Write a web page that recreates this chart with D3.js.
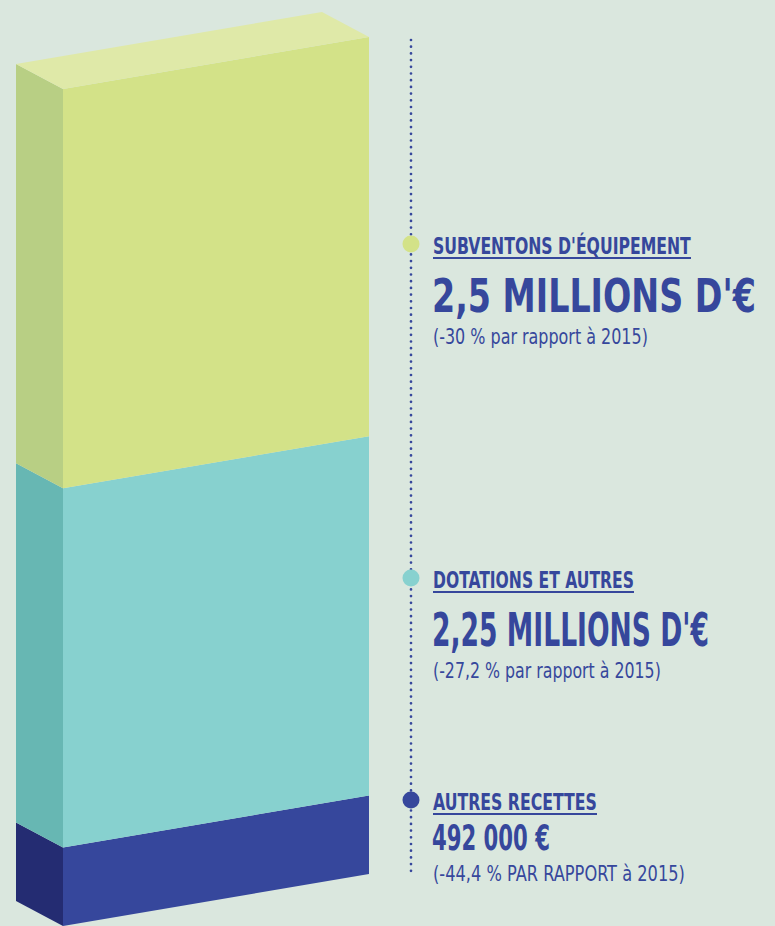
<!DOCTYPE html>
<html>
<head>
<meta charset="utf-8">
<script src="https://cdn.jsdelivr.net/npm/d3@7"></script>
<style>
  html, body { margin: 0; padding: 0; background: #dae7de; }
  svg { display: block; }
</style>
</head>
<body>
<svg id="chart" width="775" height="926"></svg>
<script>
// data, bottom to top
var categories = ["AUTRES RECETTES", "DOTATIONS ET AUTRES", "SUBVENTONS D'ÉQUIPEMENT"];
var values = [0.492, 2.25, 2.5]; // millions d'euros
var valueLabels = ["492 000 €", "2,25 MILLIONS D'€", "2,5 MILLIONS D'€"];
var changeLabels = ["(-44,4 % PAR RAPPORT à 2015)", "(-27,2 % par rapport à 2015)", "(-30 % par rapport à 2015)"];

var frontColors = ["#36479c", "#87d1cf", "#d3e288"];
var sideColors = ["#242c72", "#67b7b3", "#b8cf84"];
var topColor = "#dfe9a8";
var ink = "#36479c";
var font = "'DejaVu Sans Condensed', 'Liberation Sans Narrow', sans-serif";

var svg = d3.select("#chart");

var x0 = 63, x1 = 369;
var slope = 52;          // rise of the front face from left to right
var dx = -47, dy = -25;  // depth offset
var total = d3.sum(values);

var y = d3.scaleLinear().domain([0, total]).range([926, 89]);

var stack = [];
var acc = 0;
values.forEach(function (v, i) {
	stack.push({ i: i, lo: acc, hi: acc + v });
	acc += v;
});

var box = svg.append("g");

// side faces
box.selectAll("polygon.side")
	.data(stack)
	.enter()
	.append("polygon")
	.attr("class", "side")
	.attr("points", function (d) {
		var yt = y(d.hi), yb = y(d.lo);
		return [[x0 + dx, yt + dy], [x0, yt], [x0, yb], [x0 + dx, yb + dy]].join(" ");
	})
	.style("fill", function (d) { return sideColors[d.i]; });

// front faces
box.selectAll("polygon.front")
	.data(stack)
	.enter()
	.append("polygon")
	.attr("class", "front")
	.attr("points", function (d) {
		var yt = y(d.hi), yb = y(d.lo);
		return [[x0, yt], [x1, yt - slope], [x1, yb - slope], [x0, yb]].join(" ");
	})
	.style("fill", function (d) { return frontColors[d.i]; });

// top face
var yTop = y(total);
box.append("polygon")
	.attr("points", [[x0 + dx, yTop + dy], [x0, yTop], [x1, yTop - slope], [x1 + dx, yTop - slope + dy]].join(" "))
	.style("fill", topColor);

// dotted line
var lineX = 411;
svg.append("line")
	.attr("x1", lineX).attr("x2", lineX)
	.attr("y1", 40).attr("y2", 877)
	.style("stroke", ink)
	.style("stroke-width", 2.7)
	.style("stroke-linecap", "round")
	.style("stroke-dasharray", "0,6.7");

// legend blocks
var blockY = [800, 578, 244];       // marker centre
var titleW = [164, 201, 258];
var valueW = [118, 277, 324];
var valueSize = [36, 46, 47];
var changeW = [252, 228, 215];

// squeeze a text horizontally to a given width (the source font is very condensed)
function squeeze(sel, tx, ty, widths) {
	sel.each(function (d) {
		var w = this.getComputedTextLength();
		var k = widths[d.i] / w;
		d3.select(this).attr("transform", "translate(" + tx + "," + (typeof ty == "function" ? ty(d) : ty) + ") scale(" + k + ",1)");
	});
}

var items = svg.selectAll("g.item")
	.data(stack)
	.enter()
	.append("g")
	.attr("class", "item")
	.attr("transform", function (d) { return "translate(0," + blockY[d.i] + ")"; });

items.append("circle")
	.attr("cx", lineX)
	.attr("cy", 0)
	.attr("r", 8.5)
	.style("fill", function (d) { return frontColors[d.i]; });

items.append("text")
	.style("font-family", font)
	.style("font-weight", "bold")
	.style("font-size", "23px")
	.style("fill", ink)
	.text(function (d) { return categories[d.i]; })
	.call(squeeze, 433, 10, titleW);

items.append("rect")
	.attr("x", 433)
	.attr("y", 13)
	.attr("width", function (d) { return titleW[d.i]; })
	.attr("height", 2)
	.style("fill", ink);

items.append("text")
	.style("font-family", font)
	.style("font-weight", "bold")
	.style("font-size", function (d) { return valueSize[d.i] + "px"; })
	.style("fill", ink)
	.text(function (d) { return valueLabels[d.i]; })
	.call(squeeze, 432, function (d) { return d.i == 0 ? 50 : 68; }, valueW);

items.append("text")
	.style("font-family", font)
	.style("font-size", "22px")
	.style("fill", ink)
	.text(function (d) { return changeLabels[d.i]; })
	.call(squeeze, 433, function (d) { return d.i == 0 ? 81 : 100; }, changeW);
</script>
</body>
</html>
